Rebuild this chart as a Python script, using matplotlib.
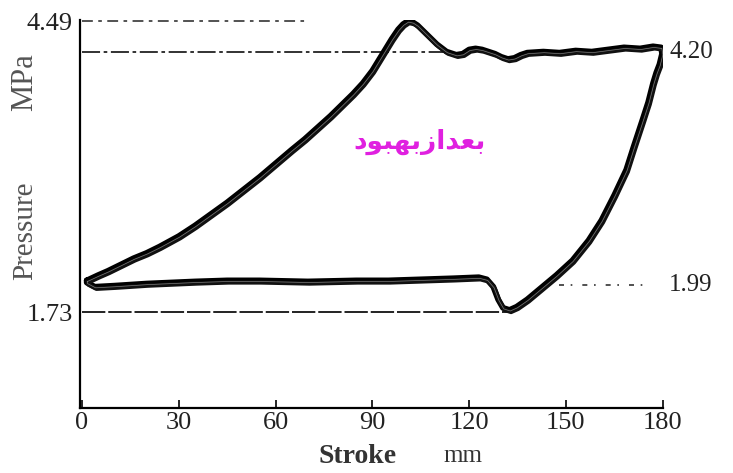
import numpy as np
import matplotlib
matplotlib.use("Agg")
import matplotlib.pyplot as plt

# indicator loop: stroke (mm) vs pressure (MPa)
stroke = [1.5, 5, 8, 12, 16, 20, 24, 30, 35, 40, 45, 50, 55, 60, 65, 69, 73,
          77, 81, 84, 87, 90, 92, 94, 96, 98, 99.5, 101, 102.5, 104, 106, 108,
          110, 113, 116, 118, 120, 122, 124, 126, 128, 130, 132, 134, 136, 138,
          143, 148, 153, 158, 163, 168, 173, 177, 179.5, 179.8, 179, 178, 177,
          175.5, 173.7, 171, 168.7, 165, 161, 157, 152, 147, 142.7, 138, 134.7,
          132.5, 130.5, 129, 127.5, 125.5, 123, 115, 105, 95, 85, 70, 55, 45,
          35, 20, 10, 4, 1.5]
pressure = [2.03, 2.08, 2.12, 2.18, 2.24, 2.29, 2.35, 2.45, 2.55, 2.66, 2.77,
            2.89, 3.01, 3.14, 3.27, 3.37, 3.48, 3.59, 3.71, 3.80, 3.90, 4.02,
            4.12, 4.22, 4.32, 4.41, 4.46, 4.49, 4.48, 4.45, 4.39, 4.33, 4.27,
            4.20, 4.17, 4.18, 4.22, 4.23, 4.22, 4.20, 4.18, 4.15, 4.13, 4.14,
            4.17, 4.19, 4.20, 4.19, 4.21, 4.20, 4.22, 4.24, 4.23, 4.25, 4.24,
            4.18, 4.08, 4.00, 3.90, 3.72, 3.55, 3.30, 3.08, 2.84, 2.60, 2.41,
            2.22, 2.08, 1.97, 1.85, 1.78, 1.75, 1.77, 1.85, 1.97, 2.04, 2.06,
            2.05, 2.04, 2.03, 2.03, 2.02, 2.03, 2.03, 2.02, 2.00, 1.98, 1.97,
            2.01]

x_ticks = [0, 30, 60, 90, 120, 150, 180]
p_max, p_top, p_low, p_min = 4.49, 4.20, 1.99, 1.73
left_labels = ["4.49", "1.73"]
right_labels = ["4.20", "1.99"]
note = "\ufea9\ufeee\ufe92\ufeec\ufe91\ufeaf\ufe8d\ufeaa\ufecc\ufe91"  # بعدازبهبود (shaped)

fig = plt.figure(figsize=(7.33, 4.73), dpi=100)
ax = fig.add_axes([0.1091, 0.1374, 0.795, 0.8203])
ax.set_xlim(-0.6, 180)
ax.set_ylim(0.82, 4.50)

serif = "Liberation Serif"

# reference lines
ax.plot([0, 70], [p_max, p_max], color="#444444", lw=1.3, dashes=(6, 3, 2, 3))
ax.plot([0, 112], [p_top, p_top], color="#222222", lw=1.3, dashes=(10, 2, 2, 2))
ax.plot([0, 132], [p_min, p_min], color="#222222", lw=1.4, dashes=(12, 1.5))
ax.plot([148, 174], [p_low, p_low], color="#333333", lw=1.2, dashes=(3, 4, 1, 6))

# loop, drawn twice slightly apart like the overlapping scanned cycles
s = np.append(stroke, stroke[0])
p = np.append(pressure, pressure[0])
ax.plot(s, p, color="black", lw=4.2, solid_joinstyle="round",
        solid_capstyle="round")
ax.plot(s + 0.5, p - 0.02, color="#111111", lw=3.0, solid_joinstyle="round")
ax.plot(s + 0.25, p - 0.01, color="#7a7a7a", lw=0.5)

for side in ["top", "right"]:
    ax.spines[side].set_visible(False)
ax.spines["left"].set_linewidth(1.6)
ax.spines["bottom"].set_linewidth(1.6)

ax.set_xticks(x_ticks)
ax.set_xticklabels([str(t) for t in x_ticks], fontfamily=serif, fontsize=19,
                   color="#222222")
ax.tick_params(axis="x", direction="in", length=6, width=1.2, pad=3)

ax.set_yticks([p_max, p_min])
ax.set_yticklabels(left_labels, fontfamily=serif, fontsize=19, color="#222222")
ax.tick_params(axis="y", length=0, pad=5)

for lab, val in zip(right_labels, [p_top, p_low]):
    ax.text(182, val, lab, fontfamily=serif, fontsize=18, color="#222222",
            va="center", ha="left")

ax.text(104.5, 3.34, note, fontfamily="DejaVu Sans", fontweight="bold",
        fontsize=19, color="#e020e0", ha="center", va="center")

fig.text(0.034, 0.827, "MPa", rotation=90, fontfamily=serif,
         fontsize=22, color="#555555", ha="center", va="center")
fig.text(0.034, 0.512, "Pressure", rotation=90, fontfamily=serif,
         fontsize=21, color="#555555", ha="center", va="center")
fig.text(0.488, 0.035, "Stroke", fontfamily=serif, fontsize=20,
         fontweight="bold", color="#333333", ha="center", va="center")
fig.text(0.632, 0.035, "mm", fontfamily=serif, fontsize=18,
         color="#333333", ha="center", va="center")

fig.savefig("out.png", dpi=100)
